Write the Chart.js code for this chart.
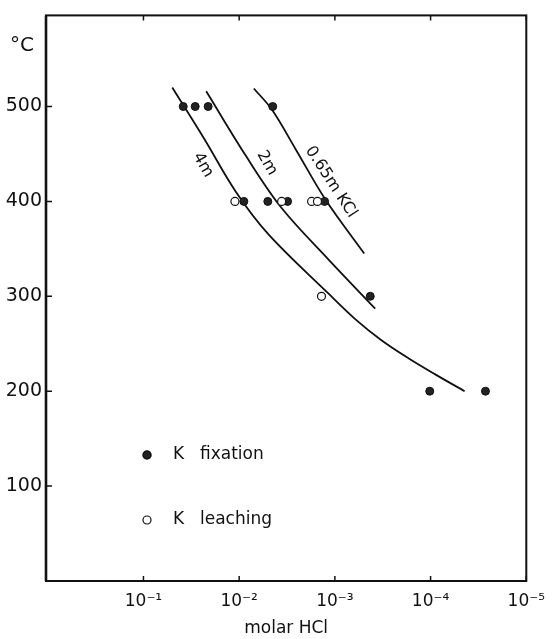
<!DOCTYPE html>
<html>
<head>
<meta charset="utf-8">
<script src="https://cdn.jsdelivr.net/npm/chart.js@4.4.1/dist/chart.umd.min.js"></script>
<style>
  html, body { margin: 0; padding: 0; background: #fff; }
  #wrap { width: 555px; height: 639px; }
</style>
</head>
<body>
<div id="wrap"><canvas id="chart"></canvas></div>
<script>
// tick values and labels
const xTicks = [1e-1, 1e-2, 1e-3, 1e-4, 1e-5];
const xTickLabels = ['10⁻¹', '10⁻²', '10⁻³', '10⁻⁴', '10⁻⁵'];
const yTicks = [100, 200, 300, 400, 500];

// measured points (molar HCl, °C)
const fixationHCl = [0.0384, 0.0288, 0.0211, 0.00446, 0.00893, 0.00502, 0.00312, 0.00128, 4.27e-4, 1.02e-4, 2.67e-5];
const fixationTemp = [500, 500, 500, 500, 400, 400, 400, 400, 300, 200, 200];
const leachingHCl = [0.01107, 0.0036, 0.00175, 0.00152, 0.00138];
const leachingTemp = [400, 400, 400, 400, 300];

// drawn curves
const curve4mHCl = [0.050, 0.0232, 0.0108, 0.00491, 0.00117, 6.13e-4, 3.29e-4, 1.72e-4, 9.04e-5, 4.41e-5];
const curve4mTemp = [520, 466, 410, 365, 303, 276, 254, 235, 218, 200];
const curve2mHCl = [0.0221, 0.00851, 0.0036, 0.00117, 3.79e-4];
const curve2mTemp = [516, 448, 393, 339, 287];
const curveKClHCl = [0.00703, 0.00457, 0.00257, 0.001256, 4.93e-4];
const curveKClTemp = [519, 497, 455, 402, 345];

const ink = '#111';
const pair = (xs, ys) => xs.map((x, i) => ({ x: x, y: ys[i] }));

const curveStyle = {
  type: 'line',
  borderColor: ink,
  borderWidth: 1.8,
  pointRadius: 0,
  fill: false,
  tension: 0.35,
  order: 2
};

const frame = {
  id: 'frame',
  afterDraw(chart) {
    const ctx = chart.ctx;
    const a = chart.chartArea;
    const x = chart.scales.x;
    const y = chart.scales.y;
    ctx.save();
    ctx.strokeStyle = ink;
    ctx.lineWidth = 2;
    ctx.strokeRect(a.left, a.top, a.right - a.left, a.bottom - a.top);
    ctx.lineWidth = 2.6;
    ctx.beginPath();
    ctx.moveTo(a.left, a.top); ctx.lineTo(a.left, a.bottom);
    ctx.stroke();
    ctx.lineWidth = 1.5;
    ctx.beginPath();
    xTicks.forEach(v => {
      const px = x.getPixelForValue(v);
      ctx.moveTo(px, a.bottom); ctx.lineTo(px, a.bottom - 5);
      ctx.moveTo(px, a.top); ctx.lineTo(px, a.top + 5);
    });
    yTicks.forEach(v => {
      const py = y.getPixelForValue(v);
      ctx.moveTo(a.left, py); ctx.lineTo(a.left + 6, py);
    });
    ctx.stroke();

    ctx.fillStyle = ink;
    ctx.textBaseline = 'middle';
    ctx.textAlign = 'center';
    ctx.font = '20px "DejaVu Sans"';
    ctx.fillText('°C', 22, 46);

    // curve labels
    const rotated = (txt, cx, cy, deg) => {
      ctx.save();
      ctx.translate(cx, cy);
      ctx.rotate(deg * Math.PI / 180);
      ctx.fillText(txt, 0, 0);
      ctx.restore();
    };
    ctx.font = '16px "DejaVu Sans"';
    rotated('4m', 203, 165, 60);
    rotated('2m', 267, 163, 60);
    rotated('0.65m KCl', 331, 182, 57);

    // legend
    ctx.font = '17px "DejaVu Sans"';
    ctx.textAlign = 'left';
    ctx.beginPath();
    ctx.arc(147, 455, 4, 0, Math.PI * 2);
    ctx.fillStyle = '#222';
    ctx.fill();
    ctx.stroke();
    ctx.beginPath();
    ctx.arc(147, 520, 4, 0, Math.PI * 2);
    ctx.fillStyle = '#fff';
    ctx.fill();
    ctx.lineWidth = 1.2;
    ctx.stroke();
    ctx.fillStyle = ink;
    ctx.fillText('K', 173, 455);
    ctx.fillText('fixation', 200, 455);
    ctx.fillText('K', 173, 520);
    ctx.fillText('leaching', 200, 520);
    ctx.restore();
  }
};

new Chart(document.getElementById('chart'), {
  type: 'scatter',
  data: {
    datasets: [
      Object.assign({ label: '4m', data: pair(curve4mHCl, curve4mTemp) }, curveStyle),
      Object.assign({ label: '2m', data: pair(curve2mHCl, curve2mTemp) }, curveStyle),
      Object.assign({ label: '0.65m KCl', data: pair(curveKClHCl, curveKClTemp) }, curveStyle),
      {
        label: 'K fixation',
        data: pair(fixationHCl, fixationTemp),
        pointRadius: 4,
        pointBackgroundColor: '#222',
        pointBorderColor: ink,
        pointBorderWidth: 1,
        order: 1
      },
      {
        label: 'K leaching',
        data: pair(leachingHCl, leachingTemp),
        pointRadius: 4,
        pointBackgroundColor: '#fff',
        pointBorderColor: ink,
        pointBorderWidth: 1.2,
        order: 0
      }
    ]
  },
  options: {
    responsive: true,
    maintainAspectRatio: false,
    animation: false,
    layout: { padding: { top: 7, right: 26, left: 0, bottom: 0 } },
    plugins: {
      legend: { display: false },
      tooltip: { enabled: false }
    },
    scales: {
      x: {
        type: 'logarithmic',
        reverse: true,
        min: 1e-5,
        max: 1.043,
        afterBuildTicks: s => { s.ticks = xTicks.map(v => ({ value: v })); },
        afterFit: s => { s.height = 58; },
        ticks: {
          autoSkip: false,
          maxRotation: 0,
          padding: 10,
          color: ink,
          font: { family: 'DejaVu Sans', size: 17 },
          callback: v => xTickLabels[xTicks.indexOf(v)] ?? ''
        },
        grid: { display: false, drawTicks: false },
        border: { display: false },
        title: {
          display: true,
          text: 'molar HCl',
          color: ink,
          font: { family: 'DejaVu Sans', size: 17 },
          padding: { top: 0, bottom: 0 }
        }
      },
      y: {
        min: 0,
        max: 596,
        afterBuildTicks: s => { s.ticks = yTicks.map(v => ({ value: v })); },
        afterFit: s => { s.width = 46; },
        ticks: {
          padding: 4,
          color: ink,
          font: { family: 'DejaVu Sans', size: 19 }
        },
        grid: { display: false, drawTicks: false },
        border: { display: false }
      }
    }
  },
  plugins: [frame]
});
</script>
</body>
</html>
